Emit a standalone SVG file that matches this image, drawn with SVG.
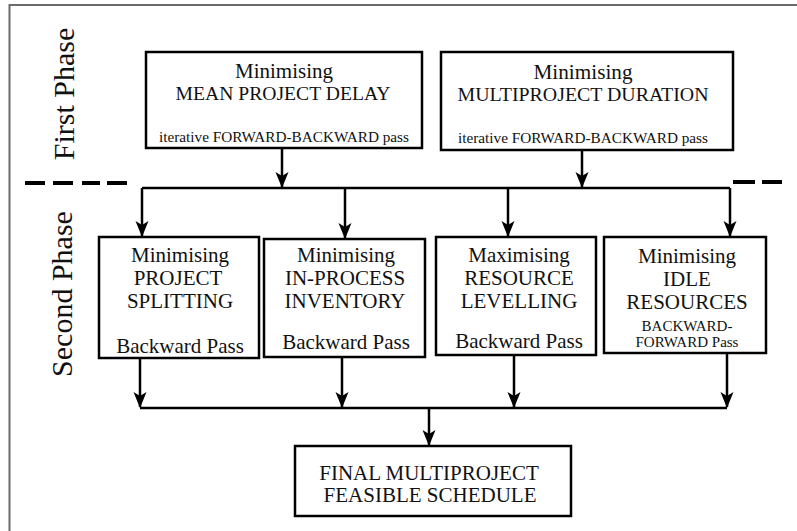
<svg xmlns="http://www.w3.org/2000/svg" width="797" height="531" viewBox="0 0 797 531">
<defs>
<style>
.box{fill:#fff;stroke:#000;stroke-width:2.5}
.t{font-family:"Liberation Serif","Times New Roman",serif;fill:#111;text-anchor:middle}
.b{font-size:21px}
.c{font-size:19.5px}
.s{font-size:15px}
.ph{font-size:30px}
.ln{fill:none;stroke:#000;stroke-width:2.5}
.arr{fill:none;stroke:#000;stroke-width:2.5;marker-end:url(#ah)}
.dash{stroke:#000;stroke-width:4}
</style>
<marker id="ah" markerUnits="userSpaceOnUse" markerWidth="20" markerHeight="16" viewBox="-17 -8 19 16" refX="0" refY="0" orient="auto">
<path d="M1,0 L-15,-6.5 L-11,0 L-15,6.5 Z" fill="#000"/>
</marker>
</defs>
<rect width="797" height="531" fill="#fff"/>
<g id="frame">
<path d="M9.5,531 L9.5,5 L797,5" fill="none" stroke="#6b6b6b" stroke-width="2"/>
</g>
<g id="labels">
<text class="t ph" transform="translate(74,94) rotate(-90)">First Phase</text>
<text class="t ph" transform="translate(72,294) rotate(-90)">Second Phase</text>
<path class="dash" d="M25,183 H45 M53,183 H73 M82,183 H100 M107,183 H127"/>
<path class="dash" d="M733,182 H755 M762,182 H782"/>
</g>
<g id="connectors">
<path class="ln" d="M142,188 H730"/>
<path class="arr" d="M282,148 V187"/>
<path class="arr" d="M582,150 V187"/>
<path class="arr" d="M142,188 V236"/>
<path class="arr" d="M345,188 V238"/>
<path class="arr" d="M508,188 V236"/>
<path class="arr" d="M730,188 V236"/>
<path class="ln" d="M140,408 H727"/>
<path class="arr" d="M140,358 V407"/>
<path class="arr" d="M342,357 V407"/>
<path class="arr" d="M514,355 V407"/>
<path class="arr" d="M727,353 V407"/>
<path class="arr" d="M429,408 V445"/>
</g>
<g id="n1">
<rect class="box" x="146" y="52" width="276" height="96"/>
<text class="t b" x="284" y="78" textLength="98" lengthAdjust="spacingAndGlyphs">Minimising</text>
<text class="t c" x="283" y="100" textLength="215" lengthAdjust="spacingAndGlyphs">MEAN PROJECT DELAY</text>
<text class="t s" x="284" y="142" textLength="250" lengthAdjust="spacingAndGlyphs">iterative FORWARD-BACKWARD pass</text>
</g>
<g id="n2">
<rect class="box" x="441" y="52" width="292" height="98"/>
<text class="t b" x="583" y="79" textLength="99" lengthAdjust="spacingAndGlyphs">Minimising</text>
<text class="t c" x="583" y="101" textLength="251" lengthAdjust="spacingAndGlyphs">MULTIPROJECT DURATION</text>
<text class="t s" x="583" y="143" textLength="250" lengthAdjust="spacingAndGlyphs">iterative FORWARD-BACKWARD pass</text>
</g>
<g id="n3">
<rect class="box" x="99" y="237" width="160" height="121"/>
<text class="t b" x="180" y="262">Minimising</text>
<text class="t b" x="178" y="285">PROJECT</text>
<text class="t b" x="180" y="308">SPLITTING</text>
<text class="t b" x="180" y="353">Backward Pass</text>
</g>
<g id="n4">
<rect class="box" x="264" y="239" width="161" height="118"/>
<text class="t b" x="346" y="262">Minimising</text>
<text class="t b" x="345" y="285">IN-PROCESS</text>
<text class="t b" x="345" y="308">INVENTORY</text>
<text class="t b" x="346" y="349">Backward Pass</text>
</g>
<g id="n5">
<rect class="box" x="436" y="237" width="160" height="118"/>
<text class="t b" x="519" y="262">Maximising</text>
<text class="t b" x="519" y="285">RESOURCE</text>
<text class="t b" x="519" y="308">LEVELLING</text>
<text class="t b" x="519" y="348">Backward Pass</text>
</g>
<g id="n6">
<rect class="box" x="604" y="237" width="162" height="116"/>
<text class="t b" x="687" y="263">Minimising</text>
<text class="t b" x="687" y="286">IDLE</text>
<text class="t b" x="687" y="309">RESOURCES</text>
<text class="t s" x="687" y="331">BACKWARD-</text>
<text class="t s" x="687" y="347">FORWARD Pass</text>
</g>
<g id="n7">
<rect class="box" x="295" y="446" width="276" height="70"/>
<text class="t b" x="429" y="480">FINAL MULTIPROJECT</text>
<text class="t b" x="430" y="502">FEASIBLE SCHEDULE</text>
</g>
</svg>
